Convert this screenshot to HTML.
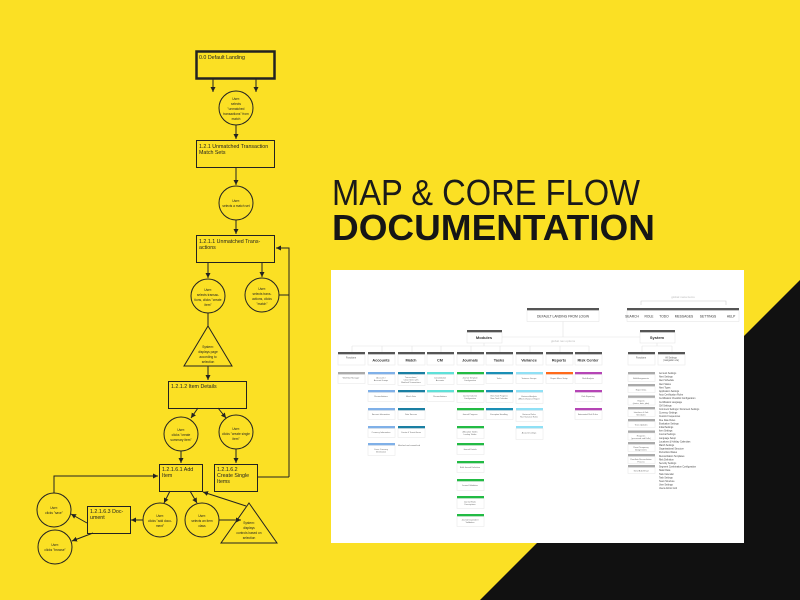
<!DOCTYPE html>
<html><head><meta charset="utf-8"><style>
html,body{margin:0;padding:0;width:800px;height:600px;overflow:hidden;background:#fbe024}
svg{display:block}
text{font-family:"Liberation Sans",sans-serif}
</style></head><body>
<svg width="800" height="600" viewBox="0 0 800 600" xmlns="http://www.w3.org/2000/svg">
<defs>
<marker id="a" markerWidth="6" markerHeight="6" refX="5" refY="3" orient="auto" markerUnits="userSpaceOnUse"><path d="M0,0.5 L5,3 L0,5.5 z" fill="#222"/></marker>
</defs>
<rect width="800" height="600" fill="#fbe024"/>
<polygon points="800,280 800,600 480,600" fill="#111"/>

<!-- Title -->
<text x="332" y="205" font-size="36" fill="#1a1a1a" textLength="308" lengthAdjust="spacingAndGlyphs">MAP &amp; CORE FLOW</text>
<text x="332" y="240" font-size="36" fill="#161616" font-weight="bold" textLength="323" lengthAdjust="spacingAndGlyphs">DOCUMENTATION</text>

<!-- Flowchart -->
<g stroke="#222" fill="none" stroke-width="1">
<rect x="196.5" y="51.5" width="78" height="27" stroke-width="2.5"/>
<line x1="213" y1="79" x2="213" y2="92" marker-end="url(#a)"/>
<line x1="256" y1="79" x2="256" y2="92" marker-end="url(#a)"/>
<circle cx="236" cy="108" r="17"/>
<line x1="236" y1="125" x2="236" y2="139" marker-end="url(#a)"/>
<rect x="196.5" y="140.5" width="78" height="27"/>
<line x1="236" y1="168" x2="236" y2="185" marker-end="url(#a)"/>
<circle cx="236" cy="203" r="17"/>
<line x1="236" y1="220" x2="236" y2="234" marker-end="url(#a)"/>
<rect x="196.5" y="235.5" width="78" height="27"/>
<polyline points="289,477 289,248 276,248" marker-end="url(#a)"/>
<line x1="257" y1="477" x2="289" y2="477"/>
<line x1="279" y1="295" x2="289" y2="295"/>
<line x1="208" y1="262" x2="208" y2="278" marker-end="url(#a)"/>
<line x1="262" y1="262" x2="262" y2="277" marker-end="url(#a)"/>
<circle cx="208" cy="296" r="17"/>
<circle cx="262" cy="295" r="17"/>
<line x1="208" y1="313" x2="208" y2="326"/>
<polygon points="208,326 232,366 184,366"/>
<line x1="208" y1="366" x2="208" y2="380" marker-end="url(#a)"/>
<rect x="168.5" y="381.5" width="78" height="27"/>
<line x1="198" y1="408" x2="191" y2="418" marker-end="url(#a)"/>
<line x1="218" y1="408" x2="226" y2="418" marker-end="url(#a)"/>
<circle cx="181" cy="434" r="17"/>
<circle cx="236" cy="432" r="17"/>
<line x1="181" y1="451" x2="181" y2="463" marker-end="url(#a)"/>
<line x1="236" y1="449" x2="236" y2="463" marker-end="url(#a)"/>
<rect x="159.5" y="464.5" width="43" height="27"/>
<rect x="214.5" y="464.5" width="43" height="27"/>
<polyline points="54,493 54,476 158,476" marker-end="url(#a)"/>
<circle cx="54" cy="510" r="17"/>
<circle cx="55" cy="547" r="17"/>
<rect x="87.5" y="506.5" width="43" height="27"/>
<line x1="87" y1="523" x2="71" y2="514" marker-end="url(#a)"/>
<line x1="93" y1="533" x2="72" y2="541" marker-end="url(#a)"/>
<line x1="170" y1="491" x2="164" y2="503" marker-end="url(#a)"/>
<line x1="190" y1="491" x2="197" y2="503" marker-end="url(#a)"/>
<circle cx="160" cy="520" r="17"/>
<circle cx="202" cy="520" r="17"/>
<line x1="143" y1="520" x2="131" y2="520" marker-end="url(#a)"/>
<line x1="219" y1="520" x2="241" y2="520" marker-end="url(#a)"/>
<polygon points="249,503 277,543 221,543"/>
<line x1="246" y1="506" x2="203" y2="492" marker-end="url(#a)"/>
</g>
<g fill="#222" font-size="5.3">
<text x="199" y="59">0.0 Default Landing</text>
<text x="199" y="148">1.2.1 Unmatched Transaction</text><text x="199" y="154">Match Sets</text>
<text x="199" y="243">1.2.1.1 Unmatched Trans-</text><text x="199" y="249">actions</text>
<text x="171" y="388">1.2.1.2 Item Details</text>
<text x="162" y="471">1.2.1.6.1 Add</text><text x="162" y="477">Item</text>
<text x="217" y="471">1.2.1.6.2</text><text x="217" y="477">Create Single</text><text x="217" y="483">Items</text>
<text x="90" y="513">1.2.1.6.3 Doc-</text><text x="90" y="519">ument</text>
</g>
<g fill="#222" font-size="3.2" text-anchor="middle">
<text x="236" y="100">User:</text><text x="236" y="105">selects</text><text x="236" y="110">"unmatched</text><text x="236" y="115">transactions" from</text><text x="236" y="120">match</text>
<text x="236" y="202">User:</text><text x="236" y="207">selects a match set</text>
<text x="208" y="291">User:</text><text x="208" y="296">selects transac-</text><text x="208" y="301">tions, clicks "create</text><text x="208" y="306">item"</text>
<text x="262" y="290">User:</text><text x="262" y="295">selects trans-</text><text x="262" y="300">actions, clicks</text><text x="262" y="305">"match"</text>
<text x="208" y="348">System:</text><text x="208" y="353">displays page</text><text x="208" y="358">according to</text><text x="208" y="363">selection</text>
<text x="181" y="431">User:</text><text x="181" y="436">clicks "create</text><text x="181" y="441">summary item"</text>
<text x="236" y="430">User:</text><text x="236" y="435">clicks "create single</text><text x="236" y="440">item"</text>
<text x="54" y="509">User:</text><text x="54" y="514">clicks "save"</text>
<text x="55" y="546">User:</text><text x="55" y="551">clicks "browse"</text>
<text x="160" y="517">User:</text><text x="160" y="522">clicks "add docu-</text><text x="160" y="527">ment"</text>
<text x="202" y="517">User:</text><text x="202" y="522">selects an item</text><text x="202" y="527">class</text>
<text x="249" y="524">System:</text><text x="249" y="529">displays</text><text x="249" y="534">controls based on</text><text x="249" y="539">selection</text>
</g>

<!-- Sitemap card -->
<rect x="331" y="270" width="413" height="273" fill="#fff"/>
<g stroke="#e2e2e2" fill="none" stroke-width="0.6">
<line x1="563" y1="321" x2="563" y2="337"/>
<line x1="502" y1="337" x2="640" y2="337"/>
<line x1="484" y1="343" x2="484" y2="346"/>
<line x1="352" y1="346" x2="589" y2="346"/>
<line x1="352" y1="346" x2="352" y2="352"/><line x1="382" y1="346" x2="382" y2="352"/><line x1="412" y1="346" x2="412" y2="352"/><line x1="441" y1="346" x2="441" y2="352"/><line x1="471" y1="346" x2="471" y2="352"/><line x1="500" y1="346" x2="500" y2="352"/><line x1="530" y1="346" x2="530" y2="352"/><line x1="560" y1="346" x2="560" y2="352"/><line x1="589" y1="346" x2="589" y2="352"/>
<line x1="657" y1="343" x2="657" y2="346"/><line x1="642" y1="346" x2="672" y2="346"/><line x1="642" y1="346" x2="642" y2="352"/><line x1="672" y1="346" x2="672" y2="352"/>
<polyline points="641,305 641,301 726,301 726,305" stroke="#ccc"/>
</g>
<g font-size="3" fill="#bbb" text-anchor="middle"><text x="683" y="298">global meta items</text><text x="563" y="342">global nav options</text></g>
<g>
<rect x="527" y="308" width="72" height="2.5" fill="#555"/><rect x="527" y="310.5" width="72" height="11" fill="#fff" stroke="#e2e2e2" stroke-width="0.5"/>
<rect x="627" y="308" width="112" height="2.5" fill="#555"/><rect x="627" y="310.5" width="112" height="11" fill="#fff" stroke="#e2e2e2" stroke-width="0.5"/>
<rect x="467" y="330" width="35" height="2.5" fill="#555"/><rect x="467" y="332.5" width="35" height="10.5" fill="#fff" stroke="#e2e2e2" stroke-width="0.5"/>
<rect x="640" y="330" width="35" height="2.5" fill="#555"/><rect x="640" y="332.5" width="35" height="10.5" fill="#fff" stroke="#e2e2e2" stroke-width="0.5"/>
</g>
<g font-size="3.3" fill="#333" text-anchor="middle">
<text x="563" y="317.5">DEFAULT LANDING FROM LOGIN</text>
<text x="632" y="317.5">SEARCH</text><text x="649" y="317.5">ROLE</text><text x="664" y="317.5">TODO</text><text x="684" y="317.5">MESSAGES</text><text x="708" y="317.5">SETTINGS</text><text x="731" y="317.5">HELP</text>
</g>
<g font-size="4" fill="#333" text-anchor="middle" font-weight="bold"><text x="484" y="339">Modules</text><text x="657" y="339">System</text></g>
<g fill="#555">
<rect x="338" y="352" width="27" height="2.5"/><rect x="368" y="352" width="27" height="2.5"/><rect x="398" y="352" width="27" height="2.5"/><rect x="427" y="352" width="27" height="2.5"/><rect x="457" y="352" width="27" height="2.5"/><rect x="486" y="352" width="27" height="2.5"/><rect x="516" y="352" width="27" height="2.5"/><rect x="546" y="352" width="27" height="2.5"/><rect x="575" y="352" width="27" height="2.5"/><rect x="628" y="352" width="27" height="2.5"/><rect x="658" y="352" width="27" height="2.5"/>
</g>
<g fill="#fff" stroke="#e4e4e4" stroke-width="0.5">
<rect x="338" y="354.5" width="27" height="10.5"/><rect x="368" y="354.5" width="27" height="10.5"/><rect x="398" y="354.5" width="27" height="10.5"/><rect x="427" y="354.5" width="27" height="10.5"/><rect x="457" y="354.5" width="27" height="10.5"/><rect x="486" y="354.5" width="27" height="10.5"/><rect x="516" y="354.5" width="27" height="10.5"/><rect x="546" y="354.5" width="27" height="10.5"/><rect x="575" y="354.5" width="27" height="10.5"/><rect x="628" y="354.5" width="27" height="10.5"/><rect x="658" y="354.5" width="27" height="10.5"/>
</g>
<g font-size="3.8" fill="#333" text-anchor="middle" font-weight="bold">
<text x="381" y="361.5">Accounts</text><text x="411" y="361.5">Match</text><text x="440" y="361.5">CM</text><text x="470" y="361.5">Journals</text><text x="499" y="361.5">Tasks</text><text x="529" y="361.5">Variance</text><text x="559" y="361.5">Reports</text><text x="588" y="361.5">Risk Center</text>
</g>
<g font-size="2.3" fill="#555" text-anchor="middle"><text x="351" y="358.5">Functions</text><text x="641" y="358.5">Functions</text><text x="671" y="358.5">All Settings</text><text x="671" y="361">(navigation via)</text></g>

<g stroke="#e6e6e6" stroke-width="0.5">
<rect x="338" y="372" width="27" height="2.5" fill="#aaa" stroke="none"/><rect x="338" y="374.5" width="27" height="9" fill="#fff"/>
<g fill="#7fb0e8"><rect x="368" y="372" width="27" height="2.5" stroke="none"/><rect x="368" y="390" width="27" height="2.5" stroke="none"/><rect x="368" y="408" width="27" height="2.5" stroke="none"/><rect x="368" y="426" width="27" height="2.5" stroke="none"/><rect x="368" y="443" width="27" height="2.5" stroke="none"/></g>
<g fill="#fff"><rect x="368" y="374.5" width="27" height="10"/><rect x="368" y="392.5" width="27" height="9"/><rect x="368" y="410.5" width="27" height="9"/><rect x="368" y="428.5" width="27" height="9"/><rect x="368" y="445.5" width="27" height="10"/></g>
<g fill="#1a7fa3"><rect x="398" y="372" width="27" height="2.5" stroke="none"/><rect x="398" y="390" width="27" height="2.5" stroke="none"/><rect x="398" y="408" width="27" height="2.5" stroke="none"/><rect x="398" y="426" width="27" height="2.5" stroke="none"/></g>
<g fill="#fff"><rect x="398" y="374.5" width="27" height="11"/><rect x="398" y="392.5" width="27" height="9"/><rect x="398" y="410.5" width="27" height="9"/><rect x="398" y="428.5" width="27" height="9"/></g>
<g fill="#5ee0d8"><rect x="427" y="372" width="27" height="2.5" stroke="none"/><rect x="427" y="390" width="27" height="2.5" stroke="none"/></g>
<g fill="#fff"><rect x="427" y="374.5" width="27" height="10"/><rect x="427" y="392.5" width="27" height="9"/></g>
<g fill="#22bb44"><rect x="457" y="372" width="27" height="2.5" stroke="none"/><rect x="457" y="390" width="27" height="2.5" stroke="none"/><rect x="457" y="408" width="27" height="2.5" stroke="none"/><rect x="457" y="426" width="27" height="2.5" stroke="none"/><rect x="457" y="443" width="27" height="2.5" stroke="none"/><rect x="457" y="461" width="27" height="2.5" stroke="none"/><rect x="457" y="479" width="27" height="2.5" stroke="none"/><rect x="457" y="496" width="27" height="2.5" stroke="none"/><rect x="457" y="514" width="27" height="2.5" stroke="none"/></g>
<g fill="#fff"><rect x="457" y="374.5" width="27" height="10"/><rect x="457" y="392.5" width="27" height="10"/><rect x="457" y="410.5" width="27" height="9"/><rect x="457" y="428.5" width="27" height="10"/><rect x="457" y="445.5" width="27" height="9"/><rect x="457" y="463.5" width="27" height="9"/><rect x="457" y="481.5" width="27" height="9"/><rect x="457" y="498.5" width="27" height="10"/><rect x="457" y="516.5" width="27" height="10"/></g>
<g fill="#1a8fb5"><rect x="486" y="372" width="27" height="2.5" stroke="none"/><rect x="486" y="390" width="27" height="2.5" stroke="none"/><rect x="486" y="408" width="27" height="2.5" stroke="none"/></g>
<g fill="#fff"><rect x="486" y="374.5" width="27" height="9"/><rect x="486" y="392.5" width="27" height="10"/><rect x="486" y="410.5" width="27" height="9"/></g>
<g fill="#8fe0f5"><rect x="516" y="372" width="27" height="2.5" stroke="none"/><rect x="516" y="390" width="27" height="2.5" stroke="none"/><rect x="516" y="408" width="27" height="2.5" stroke="none"/><rect x="516" y="426" width="27" height="2.5" stroke="none"/></g>
<g fill="#fff"><rect x="516" y="374.5" width="27" height="9"/><rect x="516" y="392.5" width="27" height="11"/><rect x="516" y="410.5" width="27" height="11"/><rect x="516" y="428.5" width="27" height="11"/></g>
<rect x="546" y="372" width="27" height="2.5" fill="#ff6a1a" stroke="none"/><rect x="546" y="374.5" width="27" height="9" fill="#fff"/>
<g fill="#b545b5"><rect x="575" y="372" width="27" height="2.5" stroke="none"/><rect x="575" y="390" width="27" height="2.5" stroke="none"/><rect x="575" y="408" width="27" height="2.5" stroke="none"/></g>
<g fill="#fff"><rect x="575" y="374.5" width="27" height="9"/><rect x="575" y="392.5" width="27" height="9"/><rect x="575" y="410.5" width="27" height="9"/></g>
<g fill="#aaa"><rect x="628" y="372" width="27" height="2.5" stroke="none"/><rect x="628" y="384" width="27" height="2.5" stroke="none"/><rect x="628" y="395.5" width="27" height="2.5" stroke="none"/><rect x="628" y="407" width="27" height="2.5" stroke="none"/><rect x="628" y="419" width="27" height="2.5" stroke="none"/><rect x="628" y="430.5" width="27" height="2.5" stroke="none"/><rect x="628" y="442" width="27" height="2.5" stroke="none"/><rect x="628" y="454" width="27" height="2.5" stroke="none"/><rect x="628" y="465" width="27" height="2.5" stroke="none"/></g>
<g fill="#fff"><rect x="628" y="374.5" width="27" height="7"/><rect x="628" y="386.5" width="27" height="6"/><rect x="628" y="398" width="27" height="7"/><rect x="628" y="409.5" width="27" height="7"/><rect x="628" y="421.5" width="27" height="6"/><rect x="628" y="433" width="27" height="7"/><rect x="628" y="444.5" width="27" height="7"/><rect x="628" y="456.5" width="27" height="7"/><rect x="628" y="467.5" width="27" height="6"/></g>
</g>
<g font-size="2" fill="#666" text-anchor="middle">
<text x="351" y="378.5">Workflow Manager</text>
<text x="381" y="378.5">Accounts /</text><text x="381" y="381">Account Groups</text><text x="381" y="397">Reconciliations</text><text x="381" y="415">Account Information</text><text x="381" y="433">Currency Information</text><text x="381" y="450">Cross Currency</text><text x="381" y="452.5">Information</text>
<text x="411" y="378">Transactions /</text><text x="411" y="380.5">Close Items with</text><text x="411" y="383">Matched Transactions</text><text x="411" y="397">Match Sets</text><text x="411" y="415">Data Sources</text><text x="411" y="433">Create &amp; Transit Items</text>
<text x="409" y="446">Matched and unmatched</text>
<text x="440" y="378.5">Consolidation</text><text x="440" y="381">Accounts</text><text x="440" y="397">Reconciliations</text>
<text x="470" y="378.5">Journal Template</text><text x="470" y="381">Configuration</text><text x="470" y="396.5">Journal Column</text><text x="470" y="399">Configuration</text><text x="470" y="415">Journal Progress</text><text x="470" y="432.5">Allocation Tables</text><text x="470" y="435">Lookup Tables</text><text x="470" y="450">Journal Details</text><text x="470" y="468">Bulk Journal Definition</text><text x="470" y="486">Journal Validation</text><text x="470" y="502.5">Journal Static</text><text x="470" y="505">Descriptions</text><text x="470" y="520.5">Journal Dependent</text><text x="470" y="523">Validation</text>
<text x="499" y="379">Tasks</text><text x="499" y="396.5">View Task Progress</text><text x="499" y="399">View Task Calendar</text><text x="499" y="415">Exception Handling</text>
<text x="529" y="379">Variance Groups</text><text x="529" y="397">Variance Analysis</text><text x="529" y="399.5">Affects Variance Report</text><text x="529" y="415">Variance Rules</text><text x="529" y="417.5">Run Variance Rules</text><text x="529" y="433.5">Account Listings</text>
<text x="559" y="379">Report Menu Setup</text>
<text x="588" y="379">Risk Analysis</text><text x="588" y="397">Risk Reporting</text><text x="588" y="415">Automated Risk Rules</text>
<text x="641" y="379">Bulk Assignments</text><text x="641" y="390.5">Export Data</text><text x="641" y="401.5">Reports</text><text x="641" y="403.8">(status, data, jobs)</text><text x="641" y="413">Interfaces &amp; Job</text><text x="641" y="415.3">Schedules</text><text x="641" y="425.5">Trans Updates</text><text x="641" y="436.5">Requests</text><text x="641" y="438.8">(processed and Drills)</text><text x="641" y="448">Reset Temporary</text><text x="641" y="450.3">Assignments</text><text x="641" y="460">Run Auto Reconciliation</text><text x="641" y="462.3">Process</text><text x="641" y="471.5">Send Bulk Email</text>
</g>
<g font-size="2.3" fill="#444">
<text x="659" y="374">Account Settings</text><text x="659" y="377.6">Alert Settings</text><text x="659" y="381.2">Alert Schedule</text><text x="659" y="384.8">Alert Status</text><text x="659" y="388.4">Alert Types</text><text x="659" y="392">Application Settings</text><text x="659" y="395.6">Auto Certification Rules</text><text x="659" y="399.2">Certification Checklist Configuration</text><text x="659" y="402.8">Certification Language</text><text x="659" y="406.4">CM Settings</text><text x="659" y="410">Comment Settings / Document Settings</text><text x="659" y="413.6">Currency Settings</text><text x="659" y="417.2">Custom Frequencies</text><text x="659" y="420.8">Due Date Rules</text><text x="659" y="424.4">Evaluation Settings</text><text x="659" y="428">Initial Settings</text><text x="659" y="431.6">Item Settings</text><text x="659" y="435.2">Journal Settings</text><text x="659" y="438.8">Language Setup</text><text x="659" y="442.4">Locations &amp; Holiday Calendars</text><text x="659" y="446">Match Settings</text><text x="659" y="449.6">Organizational Structure</text><text x="659" y="453.2">Period End Dates</text><text x="659" y="456.8">Reconciliation Templates</text><text x="659" y="460.4">Risk Definition</text><text x="659" y="464">Security Settings</text><text x="659" y="467.6">Segment Combination Configuration</text><text x="659" y="471.2">Static Data</text><text x="659" y="474.8">Task Calendar</text><text x="659" y="478.4">Task Settings</text><text x="659" y="482">Team Structure</text><text x="659" y="485.6">User Settings</text><text x="659" y="489.2">Users Admin Grid</text>
</g>
</svg>
</body></html>
